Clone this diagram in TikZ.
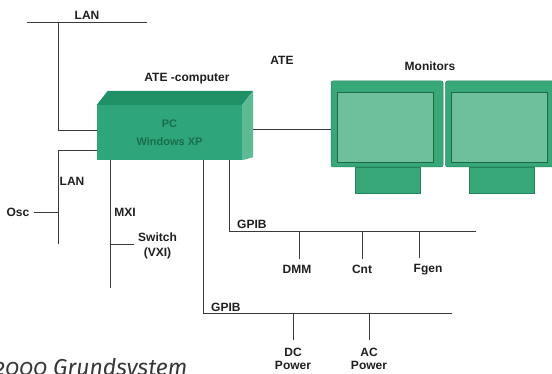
\documentclass[tikz,border=0pt]{standalone}
\usepackage{fontspec}
\setmainfont{Liberation Sans}
\newfontfamily\capfont[Numbers=OldStyle]{Fira Sans}
\usetikzlibrary{positioning,calc}
\definecolor{pcgreen}{HTML}{2EA57A}
\definecolor{pctop}{HTML}{1F8F66}
\definecolor{pcside}{HTML}{5CBB93}
\definecolor{pctext}{HTML}{1A6E4C}
\definecolor{mongreen}{HTML}{38A878}
\definecolor{scrgreen}{HTML}{6EC09A}
\definecolor{edgegreen}{HTML}{22835D}
\definecolor{wire}{HTML}{3A3A3A}

\begin{document}
\begin{tikzpicture}[x=1pt, y=-1pt,
  font=\fontsize{12}{13.5}\selectfont\bfseries,
  lbl/.style={text=black!88, inner sep=1pt, align=center},
  wire/.style={draw=wire, line width=0.7pt},
  tap/.style={wire, shorten <=5pt},
  frame/.style={fill=mongreen, draw=edgegreen, line width=0.5pt, rounded corners=2pt, minimum width=112pt, minimum height=86pt, inner sep=0pt},
  screen/.style={fill=scrgreen, draw=edgegreen!80!black, line width=0.5pt, minimum width=96pt, minimum height=70pt, inner sep=0pt},
  stand/.style={fill=mongreen, draw=edgegreen, line width=0.4pt, minimum width=65pt, minimum height=26pt, inner sep=0pt}]
\useasboundingbox (0,0) rectangle (552,374);

% ATE computer
\node[fill=pcgreen, minimum width=145pt, minimum height=55pt, text=pctext, align=center, font=\fontsize{11}{18}\selectfont\bfseries] (pc) at (169.5,132.5) {PC\\Windows XP};
\fill[pctop] (pc.north west) -- ++(11,-14) -- ($(pc.north east)+(11,-14)$) -- (pc.north east) -- cycle;
\fill[pcside] (pc.north east) -- ++(11,-14) -- ($(pc.south east)+(11,-3)$) -- (pc.south east) -- cycle;
\node[lbl] (atecomp) at (187,79) {ATE -computer};
\node[lbl] (ate) at (282,60) {ATE};

% monitors
\node[stand] (foot1) at (387.5,180) {};
\node[frame] (mon1) at (387,124) {};
\node[screen] (scr1) at ($(mon1.center)+(-2,3)$) {};
\node[frame, right=2pt of mon1] (mon2) {};
\node[screen] (scr2) at ($(mon2.center)+(-2,3)$) {};
\node[stand, below=0pt of mon2] (foot2) {};
\node[lbl] (mons) at (430,66) {Monitors};
\coordinate (pcr) at (253,129);
\draw[wire] (pcr) -- (pcr -| mon1.west);

% LAN
\coordinate (lanA) at (27,22);
\coordinate (lanB) at (147,22);
\coordinate (lanC) at (58,22);
\draw[wire] (lanA) -- (lanB);
\draw[wire] (lanC) |- ([yshift=2.5pt]pc.west);
\node[lbl] (lan1) at (87,15) {LAN};

\coordinate (lanD) at (58,150);
\coordinate (lanE) at (58,244);
\draw[wire] (lanE) -- (lanD) -- (lanD -| pc.west);
\node[lbl] (lan2) at (72,181) {LAN};
\node[lbl] (osc) at (18,212) {Osc};
\draw[wire] ([xshift=3pt]osc.east) -- (osc.east -| lanD);

% MXI
\coordinate (mxi) at (110,288);
\coordinate (swtap) at (110,244);
\draw[wire] (pc.south -| mxi) -- (mxi);
\node[lbl] (mxil) at (125,212) {MXI};
\node[lbl] (switch) at (157.5,246) {Switch\\[2pt](VXI)};
\draw[wire] (swtap) -- ([xshift=-3pt]swtap -| switch.west);

% GPIB 1
\coordinate (gpA) at (229,231);
\coordinate (gpAend) at (476,231);
\draw[wire] (pc.south -| gpA) -- (gpA) -- (gpAend);
\node[lbl, anchor=west] (gpib1) at (236,224) {GPIB};
\node[lbl] (dmm) at (297,269) {DMM};
\node[lbl] (cnt) at (362,269) {Cnt};
\node[lbl] (fgen) at (428,270) {Fgen};
\draw[tap] ([xshift=2pt]dmm.north) -- ([xshift=2pt]dmm.north |- gpA);
\draw[tap] (cnt.north) -- (cnt.north |- gpA);
\draw[tap] ([xshift=-9pt]fgen.north) -- ([xshift=-9pt]fgen.north |- gpA);

% GPIB 2
\coordinate (gpB) at (203,313);
\coordinate (gpBend) at (452,313);
\draw[wire] (pc.south -| gpB) -- (gpB) -- (gpBend);
\node[lbl, anchor=west] (gpib2) at (210,307) {GPIB};
\node[lbl] (dc) at (293,359) {DC\\Power};
\node[lbl] (ac) at (369,359) {AC\\Power};
\draw[tap, shorten <=7pt] (dc.north) -- (dc.north |- gpB);
\draw[tap, shorten <=7pt] (ac.north) -- (ac.north |- gpB);

\node[anchor=base west, inner sep=0pt, text=black!78, font=\capfont\itshape\fontsize{23}{23}\selectfont] (caption) at (-6,375) {2000 Grundsystem};
\end{tikzpicture}
\end{document}
